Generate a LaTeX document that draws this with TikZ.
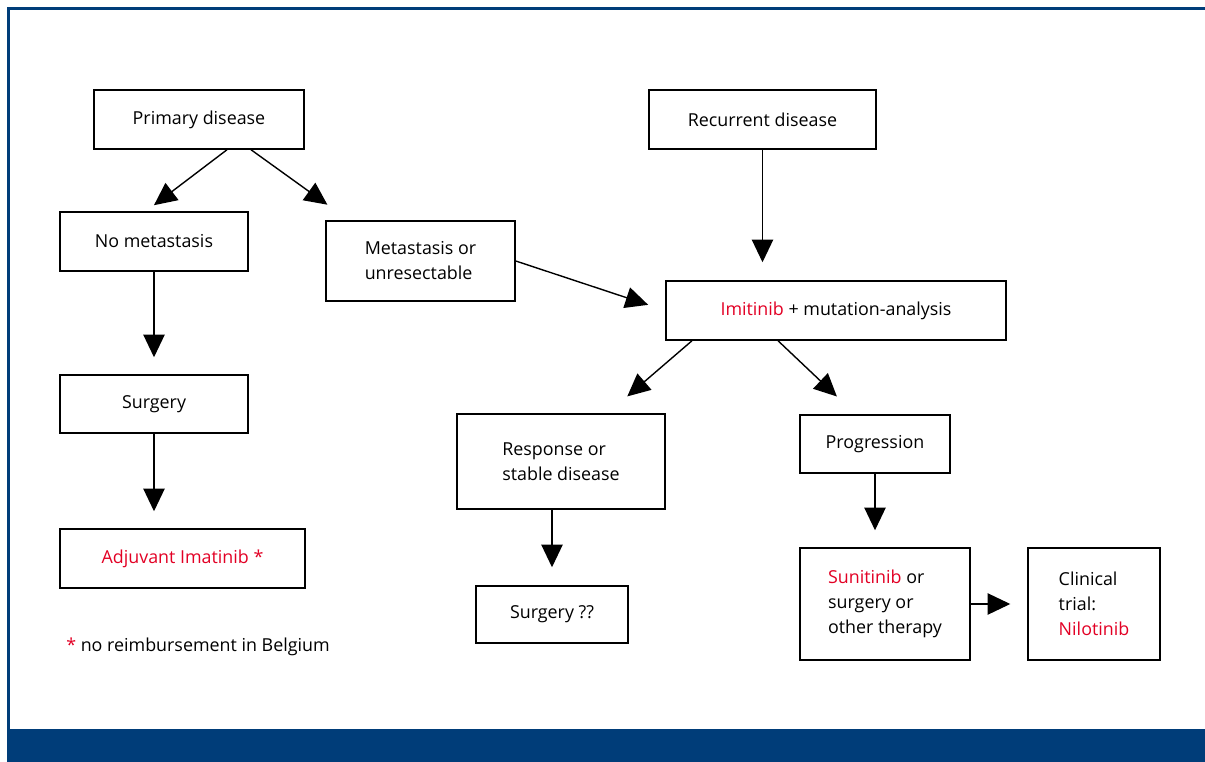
\documentclass[tikz,border=0pt]{standalone}
\usepackage{fontspec}
\setmainfont{Open Sans}
\usetikzlibrary{arrows.meta}
\definecolor{frameblue}{RGB}{0,61,121}
\definecolor{drugred}{RGB}{226,0,36}
\newcommand{\drug}[1]{\textcolor{drugred}{#1}}
\begin{document}
\begin{tikzpicture}[x=0.75pt,y=-0.75pt,
  box/.style={draw=black,line width=1.1pt,inner sep=0pt,align=center,
    font=\fontsize{13.4}{18.75}\selectfont},
  lbox/.style={box,align=left},
  arr/.style={line width=1.05pt,-{Triangle[length=17pt,width=16pt]}},
  note/.style={font=\fontsize{13.4}{18.75}\selectfont,inner sep=0pt}]
\useasboundingbox (0,0) rectangle (1205,762);
% frame
\fill[frameblue] (7,7.5) rectangle (1205,10.5);
\fill[frameblue] (7,7.5) rectangle (10,729);
\fill[frameblue] (7,729) rectangle (1205,762);
% boxes
\node[box,minimum width=157.5pt,minimum height=44.25pt] (prim) at (199,119.5) {Primary disease};
\node[box,minimum width=170.25pt,minimum height=44.25pt] (rec) at (762.5,119.5) {Recurrent disease};
\node[box,minimum width=141pt,minimum height=44.25pt] (nometa) at (154,241.5) {No metastasis};
\node[lbox,minimum width=141.75pt,minimum height=60pt] (meta) at (420.5,261) {Metastasis or\\unresectable};
\node[box,minimum width=255pt,minimum height=44.25pt] (imit) at (836,310.5) {\drug{Imitinib} + mutation-analysis};
\node[box,minimum width=141pt,minimum height=43.5pt] (surg1) at (154,404) {Surgery};
\node[lbox,minimum width=156pt,minimum height=71.25pt] (resp) at (561,461.5) {Response or\\stable disease};
\node[box,minimum width=112.5pt,minimum height=43.5pt] (prog) at (875,444) {Progression};
\node[box,minimum width=183.75pt,minimum height=44.25pt] (adj) at (182.5,558.5) {\drug{Adjuvant Imatinib *}};
\node[box,minimum width=114pt,minimum height=42.75pt] (surg2) at (552,614.5) {Surgery ??};
\node[lbox,minimum width=127.5pt,minimum height=84pt] (sun) at (885,604) {\drug{Sunitinib} or\\surgery or\\other therapy};
\node[lbox,minimum width=99pt,minimum height=84pt] (clin) at (1094,604) {Clinical\\trial:\\\drug{Nilotinib}};
\node[note,anchor=west] (fn) at (66,647) {\drug{*} no reimbursement in Belgium};
% connectors
\draw[arr,shorten >=7.5pt] ([xshift=21pt]prim.south) -- ([xshift=-6pt]nometa.north);
\draw[arr,shorten >=20pt] ([xshift=39pt]prim.south) -- ([xshift=-53.6pt]meta.north);
\draw[arr,shorten >=13.5pt] (meta.east) -- (imit.west);
\draw[arr,shorten >=13.5pt] (rec.south) -- (rec.south |- imit.north);
\draw[arr,shorten >=19.4pt] ([xshift=-108pt]imit.south) -- ([xshift=35pt]resp.north);
\draw[arr,shorten >=19.4pt] ([xshift=-43.5pt]imit.south) -- ([xshift=-14.5pt]prog.north);
\draw[arr,shorten >=12.75pt] (nometa.south) -- (surg1.north);
\draw[arr,shorten >=12.75pt] (surg1.south) -- (surg1.south |- adj.north);
\draw[arr,shorten >=13.5pt] (surg2.north |- resp.south) -- (surg2.north);
\draw[arr,shorten >=12.75pt] (prog.south) -- (prog.south |- sun.north);
\draw[arr,shorten >=12.75pt] (sun.east) -- (clin.west);
\end{tikzpicture}
\end{document}
